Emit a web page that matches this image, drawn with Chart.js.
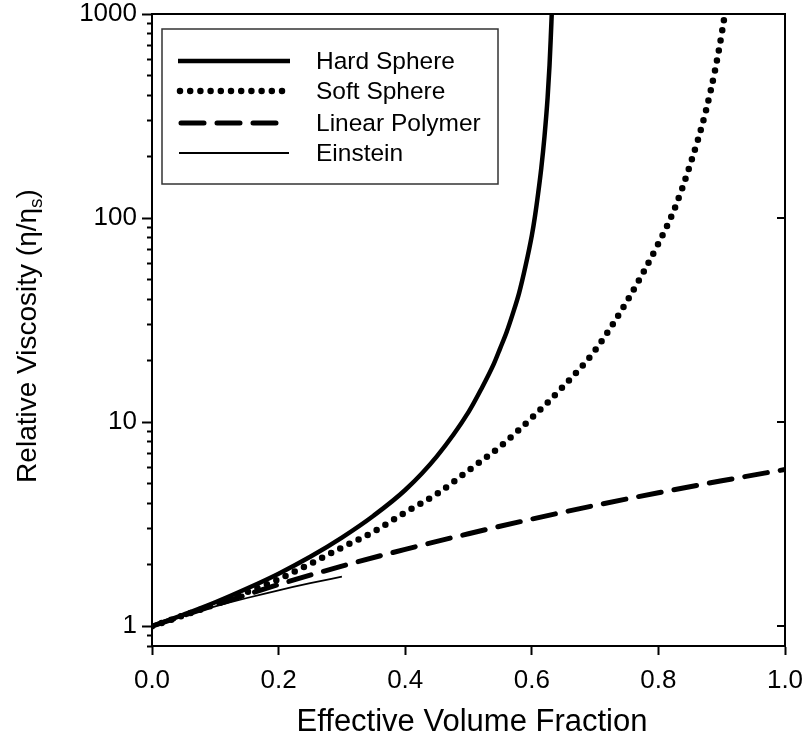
<!DOCTYPE html>
<html>
<head>
<meta charset="utf-8">
<title>Relative Viscosity</title>
<script src="https://cdn.jsdelivr.net/npm/chart.js@4.4.1/dist/chart.umd.min.js"></script>
<style>
  html, body { margin: 0; padding: 0; background: #fff; }
  canvas { display: block; }
</style>
</head>
<body>
<canvas id="chart-viscosity" width="807" height="739"></canvas>
<script>
// Valores (fracción de volumen efectiva vs viscosidad relativa)
const hardX = [0, 0.05, 0.1, 0.15, 0.2, 0.25, 0.3, 0.35, 0.4, 0.45, 0.5, 0.52, 0.54, 0.55, 0.56, 0.57, 0.58, 0.59, 0.6, 0.605, 0.61, 0.615, 0.62, 0.625, 0.628, 0.63, 0.6315];
const hardY = [1, 1.14, 1.31, 1.53, 1.81, 2.19, 2.72, 3.48, 4.65, 6.8, 11.2, 14.5, 19.3, 23, 27.5, 34, 43, 58, 82, 102, 132, 176, 250, 390, 560, 770, 1000];

const softX = [0, 0.05, 0.1, 0.15, 0.2, 0.25, 0.3, 0.35, 0.4, 0.45, 0.5, 0.55, 0.6, 0.65, 0.7, 0.75, 0.8, 0.825, 0.85, 0.875, 0.89, 0.9, 0.905];
const softY = [1, 1.13, 1.28, 1.47, 1.70, 2.02, 2.43, 2.90, 3.61, 4.45, 5.8, 7.6, 10.5, 15.0, 22.5, 39, 75, 110, 182, 335, 540, 800, 1000];

const polyX = [0, 0.1, 0.2, 0.3, 0.4, 0.5, 0.6, 0.7, 0.8, 0.9, 1.0];
const polyY = [1, 1.27, 1.60, 1.97, 2.38, 2.84, 3.35, 3.91, 4.51, 5.16, 5.86];

const einX = [0, 0.05, 0.1, 0.15, 0.2, 0.25, 0.3];
const einY = [1, 1.125, 1.25, 1.375, 1.5, 1.625, 1.75];

const seriesNames = ['Hard Sphere', 'Soft Sphere', 'Linear Polymer', 'Einstein'];

// Ticks de los ejes
const xTicks = [0, 0.2, 0.4, 0.6, 0.8, 1.0];
const yMajorTicks = [1, 10, 100, 1000];
const yMinorTicks = [0.8, 0.9, 2, 3, 4, 5, 6, 7, 8, 9, 20, 30, 40, 50, 60, 70, 80, 90,
                     200, 300, 400, 500, 600, 700, 800, 900];

const FONT = '"Liberation Sans", Arial, Helvetica, sans-serif';

function toPoints(xs, ys) {
    return xs.map((x, i) => ({ x: x, y: ys[i] }));
}

// Marco, ticks interiores del eje derecho, leyenda y títulos
const framePlugin = {
    id: 'framePlugin',
    afterDraw(chart) {
        const ctx = chart.ctx;
        const area = chart.chartArea;
        const yScale = chart.scales.y;

        ctx.save();
        ctx.strokeStyle = '#000';
        ctx.lineWidth = 2;
        ctx.beginPath();
        ctx.moveTo(area.left, area.top);
        ctx.lineTo(area.right, area.top);
        ctx.lineTo(area.right, area.bottom);
        ctx.stroke();

        // ticks hacia adentro en el eje derecho
        yMajorTicks.forEach(v => {
            const py = Math.round(yScale.getPixelForValue(v));
            ctx.beginPath();
            ctx.moveTo(area.right, py);
            ctx.lineTo(area.right - 8, py);
            ctx.stroke();
        });

        // leyenda
        const box = { x: 162, y: 29, w: 336, h: 155 };
        ctx.fillStyle = '#fff';
        ctx.fillRect(box.x, box.y, box.w, box.h);
        ctx.strokeStyle = '#333';
        ctx.lineWidth = 1.5;
        ctx.strokeRect(box.x, box.y, box.w, box.h);

        const rows = [61, 91, 123, 153];
        chart.data.datasets.forEach((ds, i) => {
            const y = rows[i];
            ctx.save();
            ctx.strokeStyle = ds.borderColor;
            ctx.lineWidth = ds.borderWidth;
            ctx.lineCap = ds.borderCapStyle || 'butt';
            ctx.setLineDash(ds.borderDash || []);
            ctx.beginPath();
            ctx.moveTo(ds.legendStart, y);
            ctx.lineTo(ds.legendEnd, y);
            ctx.stroke();
            ctx.restore();

            ctx.fillStyle = '#000';
            ctx.font = '24.5px ' + FONT;
            ctx.textAlign = 'left';
            ctx.textBaseline = 'middle';
            ctx.fillText(ds.label, 316, y + 1);
        });

        // título eje x
        ctx.fillStyle = '#000';
        ctx.font = '31px ' + FONT;
        ctx.textAlign = 'center';
        ctx.textBaseline = 'alphabetic';
        ctx.fillText('Effective Volume Fraction', 472, 731);

        // título eje y con subíndice
        const mainFont = '28px ' + FONT;
        const subFont = '19px ' + FONT;
        const partA = 'Relative Viscosity (\u03B7/\u03B7';
        const partB = 's';
        const partC = ')';
        ctx.font = mainFont;
        const wA = ctx.measureText(partA).width;
        const wC = ctx.measureText(partC).width;
        ctx.font = subFont;
        const wB = ctx.measureText(partB).width;
        const total = wA + wB + wC;

        ctx.translate(36, 336);
        ctx.rotate(-Math.PI / 2);
        ctx.textAlign = 'left';
        let x0 = -total / 2;
        ctx.font = mainFont;
        ctx.fillText(partA, x0, 0);
        ctx.font = subFont;
        ctx.fillText(partB, x0 + wA, 6);
        ctx.font = mainFont;
        ctx.fillText(partC, x0 + wA + wB, 0);
        ctx.restore();
    }
};

function createViscosityChart() {
    const canvas = document.getElementById('chart-viscosity');
    const ctx = canvas.getContext('2d');

    const datasets = [
        {
            label: seriesNames[0],
            data: toPoints(hardX, hardY),
            borderColor: '#000',
            borderWidth: 4.5,
            borderDash: [],
            legendStart: 178, legendEnd: 290
        },
        {
            label: seriesNames[1],
            data: toPoints(softX, softY),
            borderColor: '#000',
            borderWidth: 6.5,
            borderDash: [0, 10.2],
            borderCapStyle: 'round',
            legendStart: 180, legendEnd: 283
        },
        {
            label: seriesNames[2],
            data: toPoints(polyX, polyY),
            borderColor: '#000',
            borderWidth: 5,
            borderDash: [23, 13],
            borderCapStyle: 'round',
            legendStart: 181, legendEnd: 277
        },
        {
            label: seriesNames[3],
            data: toPoints(einX, einY),
            borderColor: '#000',
            borderWidth: 1.8,
            borderDash: [],
            legendStart: 179, legendEnd: 289
        }
    ];

    return new Chart(ctx, {
        type: 'line',
        data: { datasets: datasets },
        options: {
            responsive: false,
            animation: false,
            devicePixelRatio: 1,
            layout: { padding: { top: 14, right: 22, left: 0, bottom: 0 } },
            elements: {
                point: { radius: 0 },
                line: { cubicInterpolationMode: 'monotone', fill: false }
            },
            plugins: {
                legend: { display: false },
                tooltip: { enabled: false },
                title: { display: false }
            },
            scales: {
                x: {
                    type: 'linear',
                    min: 0,
                    max: 1,
                    afterBuildTicks: scale => { scale.ticks = xTicks.map(v => ({ value: v })); },
                    afterFit: scale => { scale.height = 93; scale.paddingLeft = 0; scale.paddingRight = 0; },
                    grid: { drawOnChartArea: false, tickLength: 9, tickWidth: 2, tickColor: '#000' },
                    border: { display: true, color: '#000', width: 2 },
                    ticks: {
                        color: '#000',
                        padding: 10,
                        maxRotation: 0,
                        autoSkip: false,
                        font: { family: FONT, size: 26 },
                        callback: v => Number(v).toFixed(1)
                    }
                },
                y: {
                    type: 'logarithmic',
                    position: 'left',
                    weight: 1,
                    min: 0.8,
                    max: 1000,
                    afterBuildTicks: scale => { scale.ticks = yMajorTicks.map(v => ({ value: v, major: true })); },
                    afterFit: scale => { scale.width = 152; scale.paddingTop = 0; scale.paddingBottom = 0; },
                    grid: { drawOnChartArea: false, tickLength: 10, tickWidth: 2, tickColor: '#000' },
                    border: { display: true, color: '#000', width: 2 },
                    ticks: {
                        color: '#000',
                        padding: 5,
                        autoSkip: false,
                        font: { family: FONT, size: 26 },
                        callback: v => String(v)
                    }
                },
                yMinor: {
                    type: 'logarithmic',
                    position: 'left',
                    weight: 0,
                    min: 0.8,
                    max: 1000,
                    afterBuildTicks: scale => { scale.ticks = yMinorTicks.map(v => ({ value: v })); },
                    afterFit: scale => { scale.width = 0; scale.paddingTop = 0; scale.paddingBottom = 0; },
                    grid: { drawOnChartArea: false, tickLength: 5, tickWidth: 2, tickColor: '#000' },
                    border: { display: false },
                    ticks: { display: false }
                }
            }
        },
        plugins: [framePlugin]
    });
}

createViscosityChart();
</script>
</body>
</html>
